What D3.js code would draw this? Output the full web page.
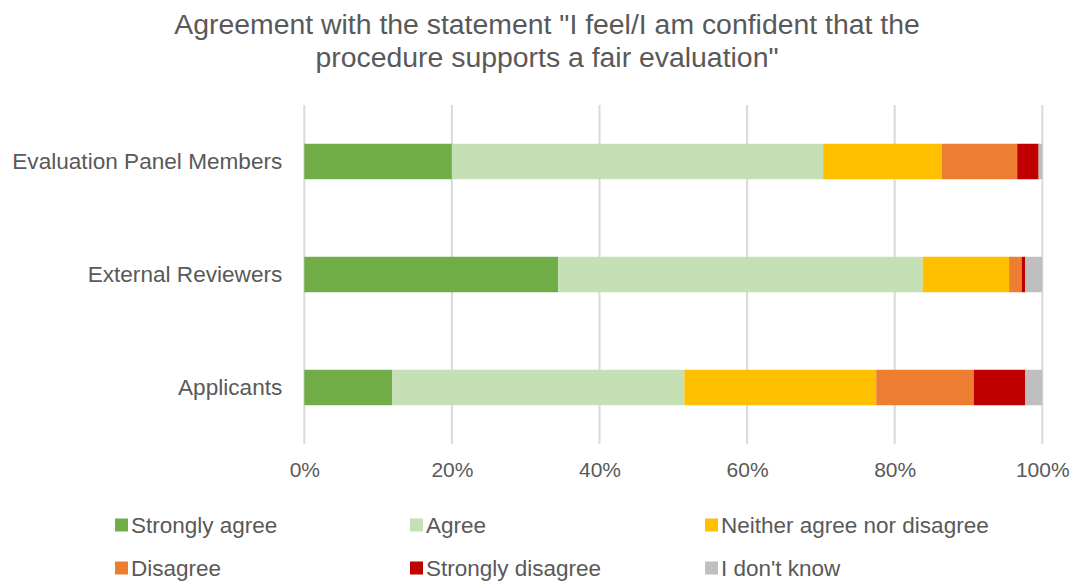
<!DOCTYPE html>
<html>
<head>
<meta charset="utf-8">
<script src="https://cdn.jsdelivr.net/npm/d3@7"></script>
<style>
  html, body { margin: 0; padding: 0; background: #ffffff; }
  svg { display: block; }
</style>
</head>
<body>
<svg id="chart" width="1077" height="581"></svg>
<script>
// Respondent groups (top to bottom)
const groups = ["Evaluation Panel Members", "External Reviewers", "Applicants"];

// Answer options, in stacking order
const answers = ["Strongly agree", "Agree", "Neither agree nor disagree", "Disagree", "Strongly disagree", "I don't know"];

// Share of respondents (%) per answer, one array per answer, in group order
const stronglyAgree    = [20.0, 34.4, 11.9];
const agree            = [50.3, 49.4, 39.6];
const neither          = [16.1, 11.7, 26.0];
const disagree         = [10.2,  1.7, 13.2];
const stronglyDisagree = [ 2.9,  0.5,  7.0];
const dontKnow         = [ 0.5,  2.3,  2.3];

const xTicks = [0, 20, 40, 60, 80, 100];
const tickLabels = ["0%", "20%", "40%", "60%", "80%", "100%"];

const palette = ["#70ad47", "#c5e0b4", "#ffc000", "#ed7d31", "#c00000", "#bfbfbf"];

const seriesValues = [stronglyAgree, agree, neither, disagree, stronglyDisagree, dontKnow];

// Table for d3.stack: one row per group
const rows = groups.map((g, i) => {
  const row = { group: g };
  answers.forEach((a, k) => { row[a] = seriesValues[k][i]; });
  return row;
});

const svg = d3.select("#chart");
const textColor = "#595959";
const font = "'Liberation Sans', Arial, sans-serif";

const x = d3.scaleLinear().domain([0, 100]).range([304.3, 1042.3]);
const y = d3.scaleBand().domain(groups).range([105, 444])
  .paddingInner(0.686).paddingOuter(0.343);

// Vertical gridlines
svg.append("g")
  .selectAll("line")
  .data(xTicks)
  .join("line")
  .attr("x1", d => x(d)).attr("x2", d => x(d))
  .attr("y1", 105).attr("y2", 444)
  .attr("stroke", "#d9d9d9")
  .attr("stroke-width", 2);

// Stacked bars
const stacked = d3.stack().keys(answers)(rows);
svg.append("g")
  .selectAll("g")
  .data(stacked)
  .join("g")
  .attr("fill", (d, i) => palette[i])
  .selectAll("rect")
  .data(d => d)
  .join("rect")
  .attr("x", d => x(d[0]))
  .attr("width", d => x(d[1]) - x(d[0]))
  .attr("y", d => y(d.data.group))
  .attr("height", y.bandwidth());

// X axis labels
const xAxis = d3.axisBottom(x)
  .tickValues(xTicks)
  .tickFormat((d, i) => tickLabels[i])
  .tickSize(0)
  .tickPadding(0);
const gx = svg.append("g").attr("transform", "translate(0,462)").call(xAxis);
gx.select(".domain").remove();
gx.selectAll("text")
  .attr("fill", textColor)
  .attr("font-family", font)
  .attr("font-size", 21)
  .attr("dy", "0.71em");

// Y axis labels
const yAxis = d3.axisLeft(y).tickSize(0).tickPadding(22);
const gy = svg.append("g").attr("transform", `translate(${x(0)},0)`).call(yAxis);
gy.select(".domain").remove();
gy.selectAll("text")
  .attr("fill", textColor)
  .attr("font-family", font)
  .attr("font-size", 22.6);

// Title
const title = svg.append("text")
  .attr("x", 547)
  .attr("text-anchor", "middle")
  .attr("fill", textColor)
  .attr("font-family", font)
  .attr("font-size", 28.4);
title.append("tspan").attr("x", 547).attr("y", 34)
  .text("Agreement with the statement \"I feel/I am confident that the");
title.append("tspan").attr("x", 547).attr("y", 67)
  .text("procedure supports a fair evaluation\"");

// Legend: three columns, two rows
const legendCols = [115, 410, 705];
const legendRows = [525, 568];
const legend = svg.append("g")
  .selectAll("g")
  .data(answers)
  .join("g")
  .attr("transform", (d, i) => `translate(${legendCols[i % 3]},${legendRows[Math.floor(i / 3)]})`);
legend.append("rect")
  .attr("x", 0).attr("y", -6.5)
  .attr("width", 13).attr("height", 13)
  .attr("fill", (d, i) => palette[i]);
legend.append("text")
  .attr("x", 16)
  .attr("y", 0)
  .attr("dy", "0.36em")
  .attr("fill", textColor)
  .attr("font-family", font)
  .attr("font-size", 22.5)
  .text(d => d);
</script>
</body>
</html>
